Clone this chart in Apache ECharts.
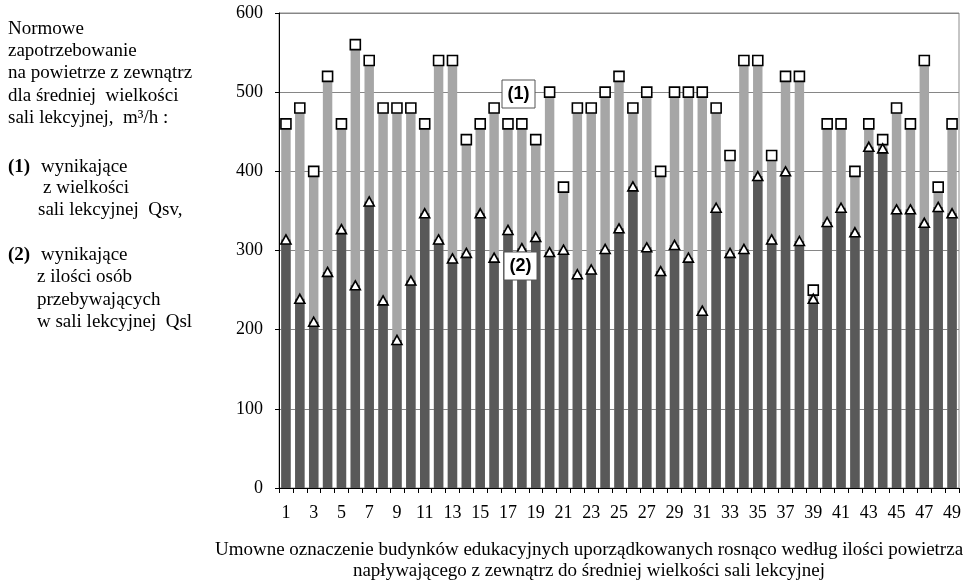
<!DOCTYPE html>
<html>
<head>
<meta charset="utf-8">
<script src="https://cdn.jsdelivr.net/npm/echarts@6/dist/echarts.min.js"></script>
<style>
html,body{margin:0;padding:0;background:#fff;}
#main{width:975px;height:585px;}
</style>
</head>
<body>
<div id="main"></div>
<script>
// Categories: building numbers 1..49
var categories = ['1','2','3','4','5','6','7','8','9','10','11','12','13','14','15','16','17','18','19','20',
  '21','22','23','24','25','26','27','28','29','30','31','32','33','34','35','36','37','38','39','40',
  '41','42','43','44','45','46','47','48','49'];
// (1) Qsv – from classroom size, m3/h
var qsv = [460,480,400,520,460,560,540,480,480,480,460,540,540,440,460,480,460,460,440,500,
  380,480,480,500,520,480,500,400,500,500,500,480,420,540,540,420,520,520,250,460,
  460,400,460,440,480,460,540,380,460];
// (2) Qsl – from number of occupants, m3/h
var qsl = [314,239,210,273,327,256,362,237,187,262,347,314,290,297,347,291,326,303,317,298,
  301,270,276,302,328,381,304,274,307,291,224,354,297,302,394,314,400,312,239,336,
  354,323,431,429,352,352,335,355,347];
var yTicks = {min:0, max:600, interval:100};

var serif = "'Liberation Serif','Times New Roman',serif";
var sans = "'Liberation Sans',Arial,sans-serif";
var txt = function(x, y, s, bold){
  return {type:'text', x:x, y:y, style:{text:s, font:(bold?'bold ':'')+'19px '+serif, fill:'#000', verticalAlign:'middle'}};
};
var chart = echarts.init(document.getElementById('main'));
chart.setOption({
  animation:false,
  backgroundColor:'#fff',
  grid:{left:279, right:16, top:13, bottom:97, show:true, borderColor:'#8c8c8c', borderWidth:1, containLabel:false},
  xAxis:{
    type:'category', data:categories, boundaryGap:true,
    axisLine:{lineStyle:{color:'#000', width:1}},
    axisTick:{show:true, interval:0, length:5, lineStyle:{color:'#000'}},
    axisLabel:{interval:1, color:'#000', fontFamily:serif, fontSize:18, margin:16},
    splitLine:{show:false}
  },
  yAxis:{
    type:'value', min:yTicks.min, max:yTicks.max, interval:yTicks.interval,
    axisLine:{show:true, lineStyle:{color:'#000', width:1}},
    axisTick:{show:true, length:4, lineStyle:{color:'#000'}},
    axisLabel:{color:'#000', fontFamily:serif, fontSize:18, margin:16},
    splitLine:{show:true, lineStyle:{color:'#868686', width:1}}
  },
  series:[
    {name:'Qsv', type:'bar', data:qsv, barWidth:'68%', barGap:'-100%',
     itemStyle:{color:'#a6a6a6'}, z:2},
    {name:'Qsl', type:'bar', data:qsl, barWidth:'68%', barGap:'-100%',
     itemStyle:{color:'#595959'}, z:3},
    {name:'Qsv-marker', type:'scatter', data:qsv, symbol:'rect', symbolSize:10,
     itemStyle:{color:'#fff', borderColor:'#000', borderWidth:1.6, opacity:1}, z:4},
    {name:'Qsl-marker', type:'scatter', data:qsl, symbol:'triangle', symbolSize:[10,9],
     itemStyle:{color:'#fff', borderColor:'#000', borderWidth:1.6, opacity:1}, z:5}
  ],
  graphic:[
    {type:'rect', x:502, y:80, shape:{width:33, height:28}, style:{fill:'#fff', stroke:'#555', lineWidth:1}, z:10},
    {type:'text', x:518.5, y:94.5, style:{text:'(1)', font:'bold 18px '+sans, fill:'#000', align:'center', verticalAlign:'middle'}, z:11},
    {type:'rect', x:504, y:252, shape:{width:33, height:28}, style:{fill:'#fff', stroke:'#555', lineWidth:1}, z:10},
    {type:'text', x:520.5, y:266.5, style:{text:'(2)', font:'bold 18px '+sans, fill:'#000', align:'center', verticalAlign:'middle'}, z:11},
    txt(8, 29, 'Normowe'),
    txt(8, 51, 'zapotrzebowanie'),
    txt(8, 73, 'na powietrze z zewnątrz'),
    txt(8, 96, 'dla średniej  wielkości'),
    txt(8, 118, 'sali lekcyjnej,  m³/h :'),
    txt(8, 167, '(1)', true),
    txt(41, 167, 'wynikające'),
    txt(43, 188, 'z wielkości'),
    txt(38, 210, 'sali lekcyjnej  Qsv,'),
    txt(8, 255, '(2)', true),
    txt(41, 255, 'wynikające'),
    txt(37, 277, 'z ilości osób'),
    txt(37, 300, 'przebywających'),
    txt(37, 322, 'w sali lekcyjnej  Qsl'),
    {type:'text', x:589, y:550, style:{
      text:'Umowne oznaczenie budynków edukacyjnych uporządkowanych rosnąco według ilości powietrza',
      font:'19px '+serif, fill:'#000', align:'center', verticalAlign:'middle'}},
    {type:'text', x:589, y:571, style:{
      text:'napływającego z zewnątrz do średniej wielkości sali lekcyjnej',
      font:'19px '+serif, fill:'#000', align:'center', verticalAlign:'middle'}}
  ]
});
</script>
</body>
</html>
